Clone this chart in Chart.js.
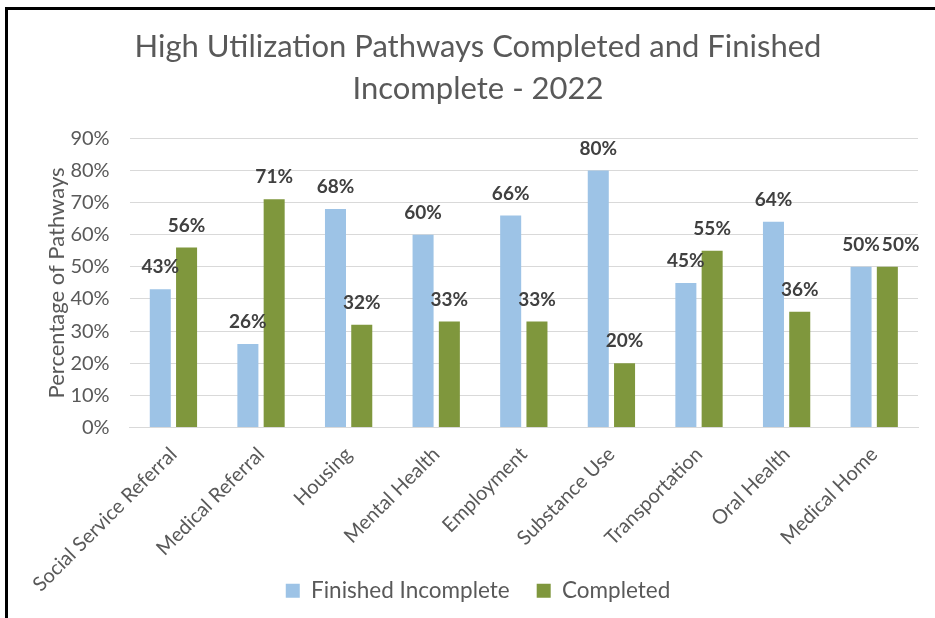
<!DOCTYPE html>
<html>
<head>
<meta charset="utf-8">
<script src="https://cdn.jsdelivr.net/npm/chart.js@4"></script>
<style>
  html, body { margin: 0; padding: 0; background: #fff; }
  #wrap { position: relative; width: 935px; height: 618px; }
  #frame {
    position: absolute; left: 5px; top: 7px; right: 0; bottom: 0;
    border-top: 3px solid #000; border-left: 3px solid #000;
    pointer-events: none;
  }
</style>
</head>
<body>
<div id="wrap">
  <canvas id="chart" width="935" height="618"></canvas>
  <div id="frame"></div>
</div>
<script>
const categories = ['Social Service Referral', 'Medical Referral', 'Housing', 'Mental Health',
  'Employment', 'Substance Use', 'Transportation', 'Oral Health', 'Medical Home'];
const finishedIncomplete = [43, 26, 68, 60, 66, 80, 45, 64, 50];
const completed = [56, 71, 32, 33, 33, 20, 55, 36, 50];
const yTicks = [0, 10, 20, 30, 40, 50, 60, 70, 80, 90];

const FONT = 'Lato, "Open Sans", sans-serif';
const GREY = '#595959';

// labels above each bar, like Excel "outside end"
const barLabels = {
  id: 'barLabels',
  beforeDraw(chart) {
    // x labels hang down beside the legend, so don't clip them to the axis box
    chart.scales.x.bottom = chart.height;
  },
  afterDatasetsDraw(chart) {
    const ctx = chart.ctx;
    ctx.save();
    ctx.font = 'bold 19px ' + FONT;
    ctx.fillStyle = '#404040';
    ctx.textAlign = 'center';
    ctx.textBaseline = 'middle';
    const first = chart.getDatasetMeta(0).data;
    chart.data.datasets.forEach((ds, i) => {
      chart.getDatasetMeta(i).data.forEach((bar, j) => {
        const txt = ds.data[j] + '%';
        let x = bar.x;
        const y = bar.y - 22;
        if (i > 0) {
          // push a colliding label to the right, as Excel does
          const prev = first[j];
          const prevTxt = chart.data.datasets[0].data[j] + '%';
          const w1 = ctx.measureText(prevTxt).width, w2 = ctx.measureText(txt).width;
          if (Math.abs((prev.y - 22) - y) < 18) {
            x = Math.max(x, prev.x + w1 / 2 + w2 / 2 + 2);
          }
        }
        ctx.fillText(txt, x, y);
      });
    });
    ctx.restore();
  }
};

new Chart(document.getElementById('chart'), {
  type: 'bar',
  data: {
    labels: categories,
    datasets: [
      { label: 'Finished Incomplete', data: finishedIncomplete, backgroundColor: '#9dc3e6' },
      { label: 'Completed', data: completed, backgroundColor: '#7f973d' }
    ]
  },
  options: {
    responsive: false,
    animation: false,
    categoryPercentage: 0.6,
    barPercentage: 0.8,
    layout: { padding: { top: 26, right: 17, left: 38, bottom: 6 } },
    plugins: {
      title: {
        display: true,
        text: ['High Utilization Pathways Completed and Finished', 'Incomplete - 2022'],
        color: GREY,
        font: { family: FONT, size: 31, weight: 'normal', lineHeight: 1.36 },
        padding: { top: 0, bottom: 28 }
      },
      legend: {
        position: 'bottom',
        labels: {
          color: GREY,
          font: { family: FONT, size: 22.5 },
          boxWidth: 14,
          boxHeight: 14,
          padding: 27
        }
      },
      tooltip: { enabled: false }
    },
    scales: {
      x: {
        grid: { display: false, drawTicks: false },
        border: { color: '#d9d9d9', width: 1 },
        afterFit(axis) {
          axis.height = 125;
          axis.paddingLeft = 0;
          axis.paddingRight = 0;
        },
        ticks: {
          color: GREY,
          font: { family: FONT, size: 20 },
          minRotation: 45,
          maxRotation: 45,
          padding: 15
        }
      },
      y: {
        min: 0,
        max: 90,
        afterBuildTicks(axis) { axis.ticks = yTicks.map(v => ({ value: v })); },
        // chart.js reserves the tick padding twice; keep only the gap next to the plot
        afterFit(axis) { axis.width -= 20; },
        grid: { color: '#d9d9d9', lineWidth: 1, drawTicks: false },
        border: { display: false },
        ticks: {
          color: GREY,
          font: { family: FONT, size: 20 },
          padding: 20,
          callback: v => v + '%'
        },
        title: {
          display: true,
          text: 'Percentage of Pathways',
          color: GREY,
          font: { family: FONT, size: 22 },
          padding: { top: 6, bottom: 0 }
        }
      }
    }
  },
  plugins: [barLabels]
});
</script>
</body>
</html>
